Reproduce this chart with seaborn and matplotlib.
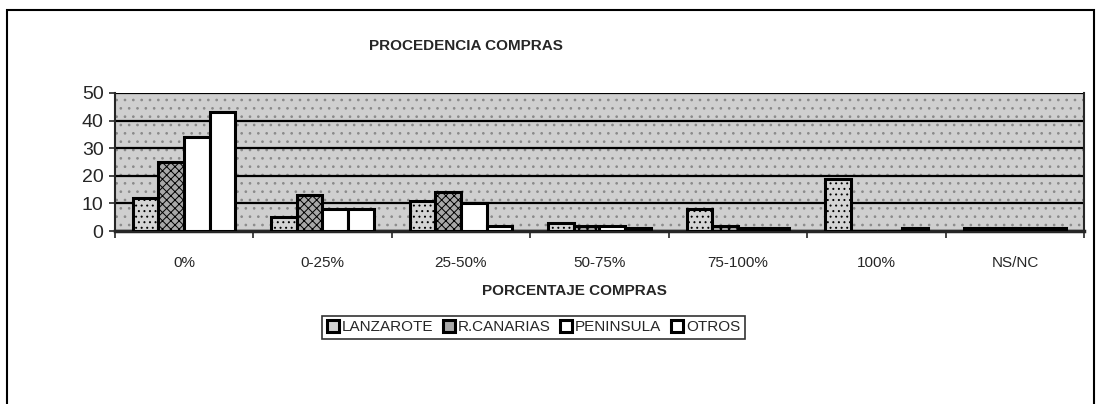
import pandas as pd
import numpy as np
import matplotlib
matplotlib.use("Agg")
import matplotlib.pyplot as plt
from matplotlib.patches import Rectangle
import seaborn as sns

categories = ["0%", "0-25%", "25-50%", "50-75%", "75-100%", "100%", "NS/NC"]
series = ["LANZAROTE", "R.CANARIAS", "PENINSULA", "OTROS"]
lanzarote = [12, 5, 11, 3, 8, 19, 1]
r_canarias = [25, 13, 14, 2, 2, 0, 1]
peninsula = [34, 8, 10, 2, 1, 0, 1]
otros = [43, 8, 2, 1, 1, 1, 1]

rows = []
for name, vals in zip(series, [lanzarote, r_canarias, peninsula, otros]):
    for cat, v in zip(categories, vals):
        rows.append({"cat": cat, "serie": name, "valor": v})
df = pd.DataFrame(rows)

sns.set_style("white")
plt.rcParams["font.family"] = ["Liberation Sans", "DejaVu Sans"]
plt.rcParams["hatch.linewidth"] = 0.7

fig = plt.figure(figsize=(11.02, 4.04), dpi=100)
ax = fig.add_axes([0.104, 0.428, 0.880, 0.342])

palette = {"LANZAROTE": "#d4d4d4", "R.CANARIAS": "#a8a8a8",
           "PENINSULA": "white", "OTROS": "white"}
sns.barplot(data=df, x="cat", y="valor", hue="serie", order=categories,
            hue_order=series, palette=palette, width=0.74, gap=0,
            edgecolor="black", linewidth=2.2, saturation=1, ax=ax,
            legend=True, zorder=3)

# stippled texture on the two grey series
for cont, hatch in zip(ax.containers, ["...", "xxxx", None, None]):
    for bar in cont:
        if hatch:
            bar.set_hatch(hatch)

# stippled grey plot background
ax.set_facecolor("#cfcfcf")
ax.add_patch(Rectangle((0, 0), 1, 1, transform=ax.transAxes, facecolor="none",
                       edgecolor="#8a8a8a", linewidth=0, hatch="..", zorder=0))

ax.set_ylim(0, 50)
ax.set_yticks([0, 10, 20, 30, 40, 50])
ax.set_xlim(-0.5, len(categories) - 0.5)
ax.yaxis.grid(True, color="black", linewidth=1.6, zorder=1)
ax.set_axisbelow(True)
for s in ax.spines.values():
    s.set_visible(False)
for side, lw in [("left", 1.5), ("bottom", 2.5), ("right", 1.5)]:
    ax.spines[side].set_visible(True)
    ax.spines[side].set_linewidth(lw)

ax.tick_params(axis="y", labelsize=14, length=4, width=1.2, left=True, pad=4)
ax.tick_params(axis="x", which="major", labelsize=11, length=0, pad=18)
ax.set_xticks(np.arange(-0.5, len(categories), 1.0), minor=True)
ax.tick_params(axis="x", which="minor", length=5, width=1.2, bottom=True)

ax.set_xlabel("PORCENTAJE COMPRAS", fontsize=11, fontweight="bold")
ax.xaxis.set_label_coords(0.474, -0.38)
ax.set_ylabel("")
fig.text(0.423, 0.885, "PROCEDENCIA COMPRAS", fontsize=11, fontweight="bold",
         ha="center", va="center")

handles, labels = ax.get_legend_handles_labels()
ax.legend_.remove()
leg = fig.legend(handles, labels, loc="center", bbox_to_anchor=(0.484, 0.19),
                 ncol=4, frameon=True, fancybox=False, edgecolor="black",
                 fontsize=11, handlelength=0.8, handleheight=0.8,
                 handletextpad=0.2, columnspacing=0.6, borderpad=0.3)
leg.get_frame().set_linewidth(1.2)

fig.patches.append(Rectangle((0.006, -0.02), 0.987, 0.995, transform=fig.transFigure,
                             fill=False, edgecolor="black", linewidth=1.5))

fig.savefig("out.png", dpi=100)
